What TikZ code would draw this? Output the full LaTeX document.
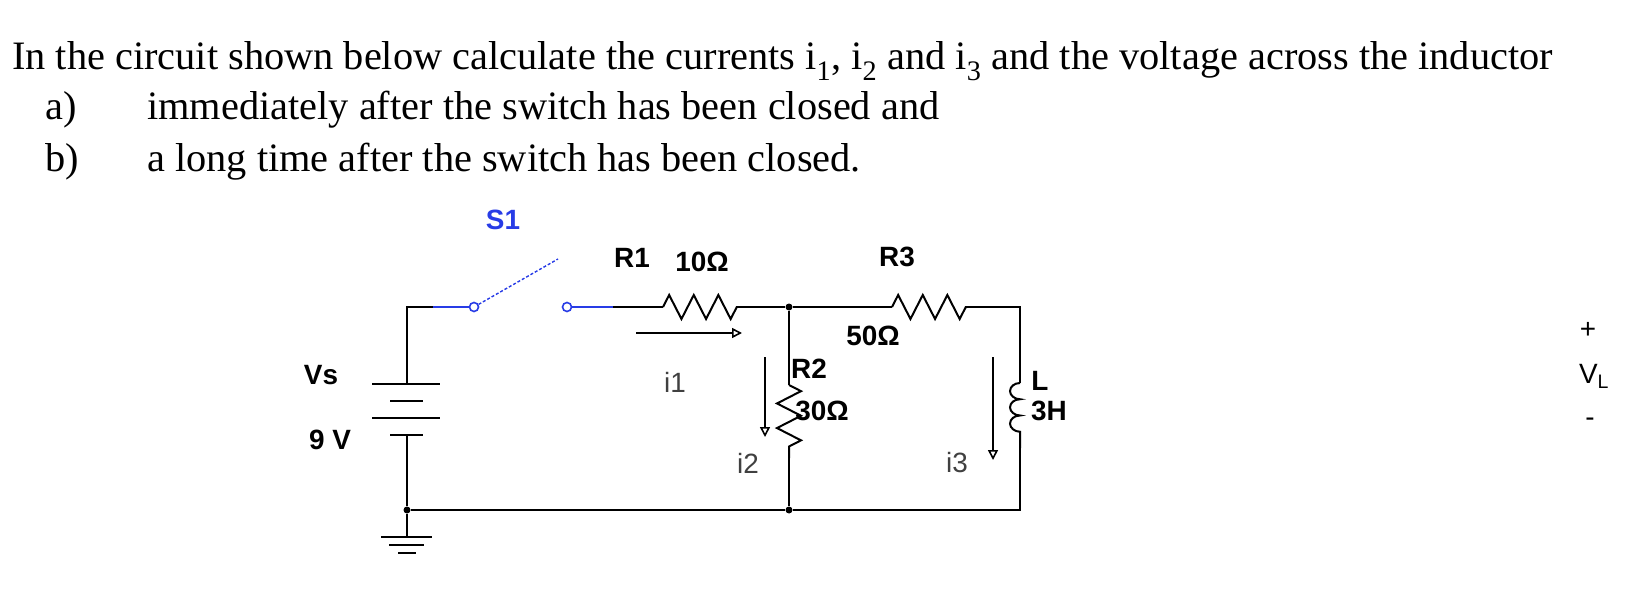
\documentclass[tikz,border=0pt]{standalone}
\usepackage{fontspec}
\setmainfont{Liberation Serif}
\newfontfamily\lblfont{Liberation Sans}
\usetikzlibrary{arrows.meta,decorations.pathmorphing}
\definecolor{swblue}{RGB}{40,60,230}
\tikzset{
  wire/.style={line width=2bp},
  sw/.style={line width=2bp, swblue},
  res/.style={wire, decorate, decoration={zigzag, segment length=24.6bp, amplitude=12bp}},
  coil/.style={wire, decorate, decoration={bumps, segment length=32.5bp, amplitude=10bp, mirror}},
  cur/.style={line width=1.6bp, -{Triangle[open, length=10bp, width=10bp]}},
  lbl/.style={font=\lblfont\bfseries\fontsize{28}{30}\selectfont, inner sep=0pt},
  ilbl/.style={font=\lblfont\fontsize{28}{30}\selectfont, text=black!75, inner sep=0pt},
  dot/.style={circle, fill, inner sep=0pt, minimum size=7bp},
  term/.style={circle, draw=swblue, line width=1.6bp, fill=white, inner sep=0pt, minimum size=9bp},
  txt/.style={font=\fontsize{40.5}{42}\selectfont, anchor=base west, inner sep=0pt}
}
\begin{document}
\begin{tikzpicture}[x=1bp, y=-1bp]
\useasboundingbox (0,0) rectangle (1628,606);
% question text
\node[txt] (q1) at (12,70) {In the circuit shown below calculate the currents i\textsubscript{1}, i\textsubscript{2} and i\textsubscript{3} and the voltage across the inductor};
\node[txt] (qa) at (45,120) {a)};
\node[txt] (qat) at (147,120) {immediately after the switch has been closed and};
\node[txt] (qb) at (45,172) {b)};
\node[txt] (qbt) at (147,172) {a long time after the switch has been closed.};

% circuit points
\coordinate (tl) at (407,307);
\coordinate (bt) at (407,384);
\coordinate (bb) at (407,435);
\coordinate (s0) at (433,307);
\node[term] (sa) at (474,307) {};
\coordinate (sarm) at (558,259);
\node[term] (sb) at (567,307) {};
\coordinate (s1) at (613,307);
\coordinate (r1a) at (663,307);
\coordinate (r1b) at (737,307);
\node[dot] (na) at (789,307) {};
\coordinate (r2a) at (789,385);
\coordinate (r2b) at (789,458);
\node[dot] (nb) at (789,510) {};
\coordinate (r3a) at (892,307);
\coordinate (r3b) at (967,307);
\coordinate (tr) at (1020,307);
\coordinate (la) at (1020,383);
\coordinate (lb) at (1020,448);
\coordinate (br) at (1020,510);
\node[dot] (gnd) at (407,510) {};
\coordinate (g0) at (407,537);

% wires
\draw[wire] (bt) -- (tl) -- (s0);
\draw[sw] (s0) -- (sa);
\draw[sw, line width=1.4bp, densely dashed] (sa) -- (sarm);
\draw[sw] (sb) -- (s1);
\draw[wire] (s1) -- (r1a);
\draw[res] (r1a) -- (r1b);
\draw[wire] (r1b) -- (na) -- (r3a);
\draw[res] (r3a) -- (r3b);
\draw[wire] (r3b) -- (tr) -- (la);
\draw[coil] (la) -- (lb);
\draw[wire] (lb) -- (br) -- (nb) -- (gnd) -- (bb);
\draw[wire] (na) -- (r2a);
\draw[res] (r2a) -- (r2b);
\draw[wire] (r2b) -- (nb);
\draw[wire] (gnd) -- (g0);

% battery and ground
\draw[wire] (372,384) -- (440,384);
\draw[wire] (390,401) -- (423,401);
\draw[wire] (372,418) -- (440,418);
\draw[wire] (390,435) -- (423,435);
\draw[wire] (381,537) -- (432,537);
\draw[wire] (389,545) -- (424,545);
\draw[wire] (398,553) -- (416,553);

% current arrows
\coordinate (i1a) at (636,333); \coordinate (i1b) at (742,333);
\coordinate (i2a) at (765,357); \coordinate (i2b) at (765,437);
\coordinate (i3a) at (993,357); \coordinate (i3b) at (993,460);
\draw[cur] (i1a) -- (i1b);
\draw[cur] (i2a) -- (i2b);
\draw[cur] (i3a) -- (i3b);

% labels
\node[lbl, text=swblue] (ls1) at (503,220) {S1};
\node[lbl] (lr1) at (632,258) {R1};
\node[lbl] (lr1v) at (702,262) {10Ω};
\node[lbl] (lr3) at (897,257) {R3};
\node[lbl] (lr3v) at (873,336) {50Ω};
\node[lbl] (lr2) at (809,369) {R2};
\node[lbl] (lr2v) at (822,411) {30Ω};
\node[lbl] (ll) at (1040,381) {L};
\node[lbl] (llv) at (1049,411) {3H};
\node[lbl] (lvs) at (321,375) {Vs};
\node[lbl] (l9v) at (330,440) {9 V};
\node[ilbl] (li1) at (675,382) {i1};
\node[ilbl] (li2) at (748,463) {i2};
\node[ilbl] (li3) at (957,463) {i3};
\node[ilbl, text=black] (lp) at (1588,330) {+};
\node[ilbl, text=black] (lvl) at (1594,376) {V\textsubscript{L}};
\node[ilbl, text=black] (lm) at (1590,422) {-};
\end{tikzpicture}
\end{document}
